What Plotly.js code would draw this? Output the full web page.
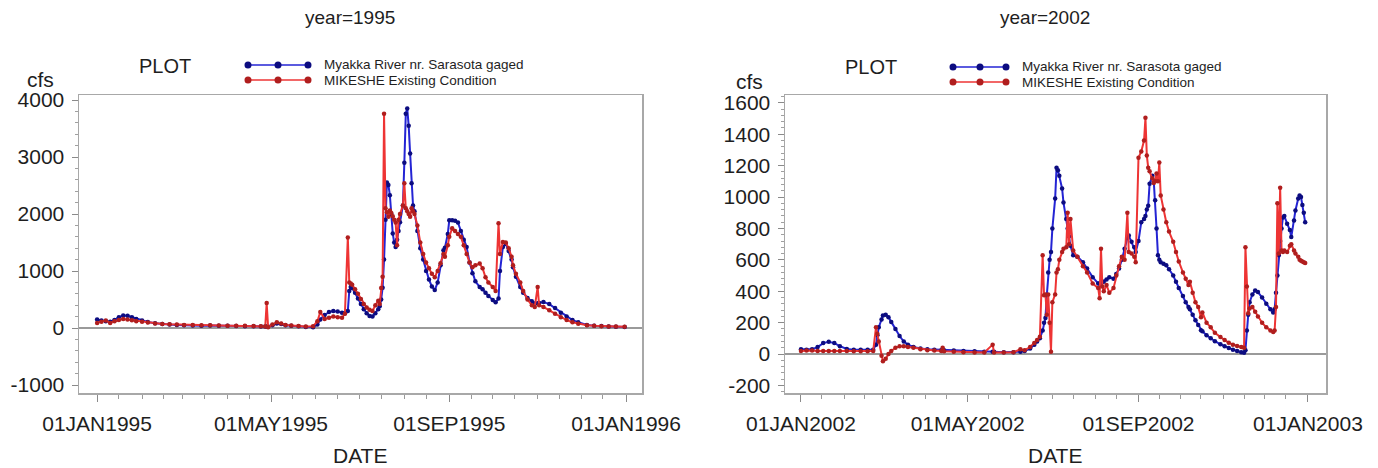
<!DOCTYPE html>
<html>
<head>
<meta charset="utf-8">
<script src="https://cdn.plot.ly/plotly-3.0.1.min.js"></script>
<style>
  html, body { margin: 0; padding: 0; background: #ffffff; }
  #chart { width: 1378px; height: 468px; }
</style>
</head>
<body>
<div id="chart"></div>
<script>
// ---------------- DATA ----------------
const seriesNames = ['Myakka River nr. Sarasota gaged', 'MIKESHE Existing Condition'];
const panelTitles = ['year=1995', 'year=2002'];

const dates1995 = ['1995-01-01','1995-01-04','1995-01-07','1995-01-10','1995-01-13','1995-01-16','1995-01-19','1995-01-22','1995-01-25','1995-01-28',
'1995-02-01','1995-02-05','1995-02-10','1995-02-15','1995-02-20','1995-02-25','1995-03-02','1995-03-08','1995-03-14','1995-03-20',
'1995-03-26','1995-04-01','1995-04-07','1995-04-13','1995-04-19','1995-04-24','1995-04-27','1995-04-28','1995-04-29','1995-05-02',
'1995-05-05','1995-05-08','1995-05-11','1995-05-15','1995-05-20','1995-05-25','1995-05-30','1995-06-02','1995-06-04','1995-06-07',
'1995-06-10','1995-06-13','1995-06-16','1995-06-19','1995-06-21','1995-06-23','1995-06-24','1995-06-25','1995-06-26','1995-06-28',
'1995-06-30','1995-07-02','1995-07-04','1995-07-06','1995-07-08','1995-07-10','1995-07-12','1995-07-14','1995-07-15','1995-07-16',
'1995-07-17','1995-07-18','1995-07-19','1995-07-20','1995-07-21','1995-07-22','1995-07-23','1995-07-24','1995-07-25','1995-07-26',
'1995-07-27','1995-07-28','1995-07-29','1995-07-31','1995-08-01','1995-08-02','1995-08-03','1995-08-04','1995-08-05','1995-08-06',
'1995-08-07','1995-08-08','1995-08-10','1995-08-12','1995-08-14','1995-08-16','1995-08-18','1995-08-20','1995-08-22','1995-08-24',
'1995-08-26','1995-08-28','1995-08-29','1995-08-31','1995-09-01','1995-09-03','1995-09-05','1995-09-07','1995-09-09','1995-09-11',
'1995-09-13','1995-09-15','1995-09-17','1995-09-19','1995-09-22','1995-09-24','1995-09-26','1995-09-28','1995-10-01','1995-10-03',
'1995-10-05','1995-10-06','1995-10-08','1995-10-10','1995-10-12','1995-10-14','1995-10-15','1995-10-17','1995-10-20','1995-10-22',
'1995-10-25','1995-10-28','1995-10-30','1995-11-01','1995-11-02','1995-11-05','1995-11-09','1995-11-13','1995-11-17','1995-11-21',
'1995-11-25','1995-11-29','1995-12-05','1995-12-10','1995-12-15','1995-12-20','1995-12-25','1995-12-31'];

const gaged1995 = [150,130,120,110,140,190,220,215,190,160,
130,105,85,70,62,55,50,45,42,45,
40,38,35,32,30,28,26,25,25,50,
80,70,50,40,30,20,15,60,150,230,
280,300,290,270,260,300,650,720,700,620,
520,420,330,260,210,200,260,330,380,500,
705,1200,1900,2555,2510,2330,2000,1660,1500,1420,
1550,1700,1855,2150,2900,3760,3850,3550,3060,2540,
2150,2050,1700,1400,1200,1000,850,730,665,800,
1100,1365,1410,1650,1890,1890,1880,1850,1700,1550,
1420,1150,960,820,720,680,620,560,490,450,
520,1000,1420,1480,1350,1200,1065,900,720,620,
525,470,430,435,440,455,420,350,270,200,
140,100,55,42,34,28,24,20];

const mike1995 = [90,110,130,90,120,140,160,150,135,120,
110,95,80,72,65,60,55,52,50,48,
45,42,40,38,35,30,25,437,15,60,
100,80,55,45,35,25,30,120,280,160,
180,200,190,180,250,1590,800,780,760,680,
600,510,420,360,320,300,400,480,420,700,
900,3760,2100,2030,1950,2060,2020,1960,1900,1850,
1450,1900,2000,2150,2540,2100,2050,2000,1950,2100,
2050,2000,1800,1500,1300,1150,1050,950,890,1000,
1135,1300,1250,1450,1600,1750,1700,1650,1600,1450,
1300,1150,1065,1100,1130,1050,890,800,720,650,
1840,1300,1510,1500,1400,1250,1100,950,800,650,
500,400,370,720,400,370,310,250,190,140,
100,75,48,38,32,28,25,22];

const dates2002 = ['2002-01-01','2002-01-05','2002-01-09','2002-01-13','2002-01-17','2002-01-21','2002-01-25','2002-01-29','2002-02-03','2002-02-08',
'2002-02-13','2002-02-18','2002-02-22','2002-02-24','2002-02-25','2002-02-26','2002-02-28','2002-03-01','2002-03-03','2002-03-05',
'2002-03-07','2002-03-10','2002-03-13','2002-03-16','2002-03-19','2002-03-23','2002-03-28','2002-04-02','2002-04-07','2002-04-12',
'2002-04-13','2002-04-14','2002-04-21','2002-04-28','2002-05-06','2002-05-13','2002-05-19','2002-05-20','2002-05-27','2002-06-03',
'2002-06-08','2002-06-11','2002-06-15','2002-06-18','2002-06-20','2002-06-22','2002-06-24','2002-06-25','2002-06-26','2002-06-27',
'2002-06-28','2002-06-29','2002-06-30','2002-07-01','2002-07-03','2002-07-04','2002-07-05','2002-07-06','2002-07-08','2002-07-09',
'2002-07-11','2002-07-12','2002-07-13','2002-07-14','2002-07-16','2002-07-19','2002-07-23','2002-07-26','2002-07-30','2002-08-03',
'2002-08-04','2002-08-05','2002-08-06','2002-08-07','2002-08-09','2002-08-11','2002-08-14','2002-08-16','2002-08-18','2002-08-20',
'2002-08-22','2002-08-24','2002-08-25','2002-08-27','2002-08-29','2002-08-30','2002-09-01','2002-09-03','2002-09-05','2002-09-06',
'2002-09-07','2002-09-08','2002-09-09','2002-09-11','2002-09-12','2002-09-13','2002-09-14','2002-09-15','2002-09-16','2002-09-17',
'2002-09-19','2002-09-21','2002-09-23','2002-09-26','2002-09-28','2002-09-30','2002-10-03','2002-10-05','2002-10-07','2002-10-08',
'2002-10-10','2002-10-12','2002-10-14','2002-10-16','2002-10-17','2002-10-20','2002-10-23','2002-10-26','2002-10-30','2002-11-02',
'2002-11-05','2002-11-08','2002-11-11','2002-11-14','2002-11-16','2002-11-17','2002-11-18','2002-11-19','2002-11-20','2002-11-22',
'2002-11-24','2002-11-26','2002-11-29','2002-12-02','2002-12-05','2002-12-07','2002-12-08','2002-12-09','2002-12-10','2002-12-11',
'2002-12-12','2002-12-13','2002-12-14','2002-12-15','2002-12-17','2002-12-19','2002-12-20','2002-12-22','2002-12-23','2002-12-25',
'2002-12-26','2002-12-27','2002-12-28','2002-12-29','2002-12-30'];

const gaged2002 = [30,28,30,45,70,78,70,50,32,28,
28,27,28,60,120,170,220,245,250,235,
205,160,115,80,60,45,35,30,28,25,
25,25,22,20,18,15,14,14,12,12,
15,20,35,60,80,100,150,200,230,375,
520,600,650,800,990,1187,1170,1135,1055,965,
860,800,750,690,630,620,585,545,490,450,
450,455,460,460,475,490,480,510,545,600,
670,740,755,715,680,650,720,840,860,880,
920,945,1085,1135,1100,980,800,630,600,585,
575,565,540,500,460,420,370,330,300,285,
250,215,185,152,145,120,100,82,62,50,
38,28,20,12,8,25,150,250,330,380,
405,395,360,320,285,265,285,390,500,630,
720,800,870,880,830,790,745,850,915,990,
1010,1000,950,900,840];

const mike2002 = [20,22,22,20,20,20,20,20,20,18,
18,18,20,170,130,80,-10,-45,-30,0,
20,40,50,50,45,40,30,25,22,20,
40,18,15,12,10,10,60,10,10,12,
30,25,45,70,90,110,630,375,380,250,
380,200,15,330,380,520,540,600,650,670,
680,900,700,860,660,620,560,520,450,420,
355,670,430,400,440,390,420,500,560,620,
600,900,650,640,620,585,1250,1290,1360,1505,
1265,1187,1165,1120,1090,1100,1150,1100,1220,1010,
920,840,780,715,650,590,520,480,440,460,
390,330,300,235,265,200,170,135,108,90,
72,60,52,45,40,680,430,260,290,300,
270,240,200,170,150,140,150,300,960,640,
1060,660,650,660,650,690,700,660,640,620,
600,595,590,585,580];

const xTicks1995 = ['1995-01-01','1995-05-01','1995-09-01','1996-01-01'];
const xTickText1995 = ['01JAN1995','01MAY1995','01SEP1995','01JAN1996'];
const xTicks2002 = ['2002-01-01','2002-05-01','2002-09-01','2003-01-01'];
const xTickText2002 = ['01JAN2002','01MAY2002','01SEP2002','01JAN2003'];
const yTicks1995 = [-1000,0,1000,2000,3000,4000];
const yTickText1995 = ['-1000','0','1000','2000','3000','4000'];
const yTicks2002 = [-200,0,200,400,600,800,1000,1200,1400,1600];
const yTickText2002 = ['-200','0','200','400','600','800','1000','1200','1400','1600'];

// ---------------- STYLE ----------------
const W = 1378, H = 468;
const FONT = 'Liberation Sans, Arial, sans-serif';
const TXT = '#1e1e1e';
const BLUE_LINE = '#2424d4', BLUE_MK = '#0c0c80';
const RED_LINE = '#ee3434', RED_MK = '#b01e1e';
const px = x => x / W;
const py = y => 1 - y / H;

function minorDates(y0, y1) {
  const out = [];
  for (let y = y0; y <= y1; y++) {
    for (let m = 1; m <= 12; m++) {
      const mm = String(m).padStart(2, '0');
      out.push(y + '-' + mm + '-01');
      out.push(y + '-' + mm + '-16');
    }
  }
  return out;
}

function mkTrace(x, y, name, xa, ya, lc, mc) {
  return {
    type: 'scatter', mode: 'lines+markers', name: name, x: x, y: y,
    xaxis: xa, yaxis: ya,
    line: { color: lc, width: 2 },
    marker: { color: mc, size: 4.5, line: { width: 0 } },
    showlegend: false, hoverinfo: 'x+y'
  };
}

const traces = [
  mkTrace(dates1995, gaged1995, seriesNames[0], 'x', 'y', BLUE_LINE, BLUE_MK),
  mkTrace(dates1995, mike1995, seriesNames[1], 'x', 'y', RED_LINE, RED_MK),
  mkTrace(dates2002, gaged2002, seriesNames[0], 'x2', 'y2', BLUE_LINE, BLUE_MK),
  mkTrace(dates2002, mike2002, seriesNames[1], 'x2', 'y2', RED_LINE, RED_MK)
];

const yDom = [py(393), py(95)];
const tickFont = { family: FONT, size: 21, color: TXT };

function xAxis(dom, range, tv, tt, minor, anchor) {
  return {
    domain: dom, range: range, type: 'date', anchor: anchor,
    tickmode: 'array', tickvals: tv, ticktext: tt,
    ticks: 'outside', ticklen: 7, tickwidth: 1, tickcolor: '#8a8a8a',
    ticklabelstandoff: 4,
    minor: { tickmode: 'array', tickvals: minor, ticks: 'outside', ticklen: 4, tickwidth: 1, tickcolor: '#9a9a9a' },
    showline: true, mirror: true, linecolor: '#a8a8a8', linewidth: 1.5,
    showgrid: false, zeroline: false, tickfont: tickFont, fixedrange: true
  };
}
function yAxis(range, tv, tt, minorDtick, anchor) {
  return {
    domain: yDom, range: range, anchor: anchor,
    tickmode: 'array', tickvals: tv, ticktext: tt,
    ticks: 'outside', ticklen: 6, tickwidth: 1, tickcolor: '#8a8a8a',
    ticklabelstandoff: 3,
    minor: { dtick: minorDtick, ticks: 'outside', ticklen: 3, tickwidth: 1, tickcolor: '#a0a0a0' },
    showline: true, mirror: true, linecolor: '#a8a8a8', linewidth: 1.5,
    showgrid: false, zeroline: true, zerolinecolor: '#9a9a9a', zerolinewidth: 1.5,
    tickfont: tickFont, fixedrange: true
  };
}

const annotations = [];
const shapes = [];
function addText(text, x, y, size, xanchor) {
  annotations.push({
    text: text, x: px(x), y: py(y), xref: 'paper', yref: 'paper',
    xanchor: xanchor || 'center', yanchor: 'middle', showarrow: false,
    font: { family: FONT, size: size, color: TXT }
  });
}
function addLegendRow(xs, y, lc, mc, label, textX) {
  shapes.push({ type: 'line', xref: 'paper', yref: 'paper',
    x0: px(xs[0]), x1: px(xs[xs.length - 1]), y0: py(y), y1: py(y),
    line: { color: lc, width: 1.3 } });
  xs.forEach(x => shapes.push({ type: 'circle', xref: 'paper', yref: 'paper',
    xsizemode: 'pixel', ysizemode: 'pixel', xanchor: px(x), yanchor: py(y),
    x0: -3.5, x1: 3.5, y0: -3.5, y1: 3.5,
    fillcolor: mc, line: { color: mc, width: 0 } }));
  addText(label, textX, y, 13.5, 'left');
}

// Left panel texts
addText(panelTitles[0], 350, 18, 19);
addText('PLOT', 165, 66, 20);
addText('cfs', 40, 79, 21);
addText('DATE', 360, 455, 21);
addLegendRow([248, 278, 308], 65, BLUE_LINE, BLUE_MK, seriesNames[0], 322);
addLegendRow([248, 278, 308], 80, RED_LINE, RED_MK, seriesNames[1], 322);
// Right panel texts
addText(panelTitles[1], 1045, 18, 19);
addText('PLOT', 871, 67, 20);
addText('cfs', 750, 81, 21);
addText('DATE', 1055, 455, 21);
addLegendRow([953, 980, 1006], 67, BLUE_LINE, BLUE_MK, seriesNames[0], 1020);
addLegendRow([953, 980, 1006], 82, RED_LINE, RED_MK, seriesNames[1], 1020);

const layout = {
  width: W, height: H,
  margin: { l: 0, r: 0, t: 0, b: 0 },
  paper_bgcolor: '#ffffff', plot_bgcolor: '#ffffff',
  showlegend: false,
  font: { family: FONT, color: TXT },
  xaxis: xAxis([px(79), px(642)], ['1994-12-19 12:00', '1996-01-12'], xTicks1995, xTickText1995, minorDates(1994, 1996), 'y'),
  yaxis: yAxis([-1140, 4088], yTicks1995, yTickText1995, 200, 'x'),
  xaxis2: xAxis([px(785), px(1326)], ['2001-12-20 12:00', '2003-01-14'], xTicks2002, xTickText2002, minorDates(2001, 2003), 'y2'),
  yaxis2: yAxis([-248, 1650], yTicks2002, yTickText2002, 40, 'x2'),
  annotations: annotations,
  shapes: shapes
};

Plotly.newPlot('chart', traces, layout, { displayModeBar: false, staticPlot: true });
</script>
</body>
</html>
